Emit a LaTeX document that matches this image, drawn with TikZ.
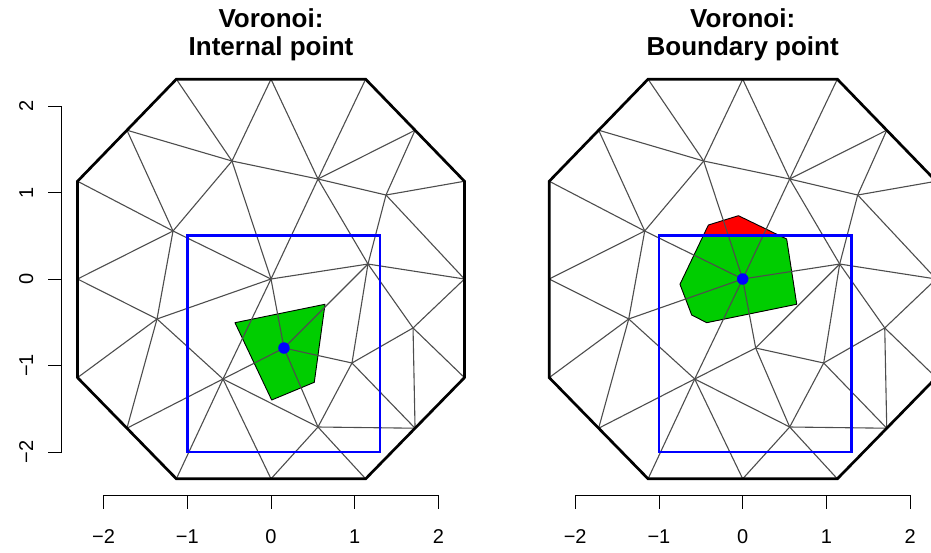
\documentclass[tikz,border=0pt]{standalone}
\usepackage{fontspec}
\setmainfont{Liberation Sans}
\usepackage{tikz}
\definecolor{meshgrey}{RGB}{77,77,77}
\definecolor{cellgreen}{RGB}{0,205,0}
\definecolor{cellred}{RGB}{255,0,0}
\definecolor{winblue}{RGB}{0,0,255}
\tikzset{
  hull/.style       = {draw=black, line width=2.7pt, line join=miter},
  meshline/.style   = {draw=meshgrey, line width=1.1pt},
  window/.style     = {draw=winblue, line width=2.7pt},
  cellrim/.style    = {draw=black, line width=0.9pt, line join=round},
  site/.style       = {circle, fill=winblue, inner sep=0pt, minimum size=11.5pt},
  axisline/.style   = {draw=black, line width=0.9pt},
  ticklab/.style    = {font=\fontsize{20}{24}\selectfont, inner sep=0pt},
  paneltitle/.style = {font=\fontsize{26}{28}\selectfont\bfseries, align=center, inner sep=0pt},
}

% the triangulated octagon, the same in both panels
\newcommand{\meshcoords}{%
  \coordinate (T0) at (-1.13, 2.31);  \coordinate (T1) at (0, 2.31);
  \coordinate (T2) at (1.13, 2.31);   \coordinate (UR) at (1.72, 1.72);
  \coordinate (R0) at (2.31, 1.13);   \coordinate (R1) at (2.31, 0);
  \coordinate (R2) at (2.31, -1.14);  \coordinate (LR) at (1.72, -1.725);
  \coordinate (B2) at (1.13, -2.31);  \coordinate (B1) at (0, -2.31);
  \coordinate (B0) at (-1.13, -2.31); \coordinate (LL) at (-1.72, -1.725);
  \coordinate (L2) at (-2.31, -1.14); \coordinate (L1) at (-2.31, 0);
  \coordinate (L0) at (-2.31, 1.13);  \coordinate (UL) at (-1.72, 1.72);
  % interior sites
  \coordinate (A) at (-0.466, 1.364); \coordinate (B) at (-1.170, 0.555);
  \coordinate (C) at (0.561, 1.156);  \coordinate (D) at (1.373, 0.971);
  \coordinate (E) at (1.158, 0.173);  \coordinate (F) at (0, 0);
  \coordinate (G) at (-1.361, -0.462);\coordinate (H) at (-0.573, -1.156);
  \coordinate (P) at (0.155, -0.798); \coordinate (I) at (0.561, -1.711);
  \coordinate (J) at (0.967, -0.971); \coordinate (K) at (1.696, -0.566);
}
\newcommand{\meshedges}{%
  \foreach \a/\b in {T0/A, T1/A, UL/A, UL/B, L0/B, L1/B, A/B, A/F, A/C, B/F, B/G,
                     T1/C, T2/C, UR/C, UR/D, R0/D, C/D, C/F, C/E, D/E, D/R1, E/R1, F/E,
                     L1/G, L2/G, LL/G, G/H, G/F, LL/H, B0/H, B1/H, H/F, H/P, H/I,
                     P/F, P/E, P/J, P/I,
                     E/J, E/K, R1/K, K/J, K/LR, K/R2, J/LR, J/I, I/LR, I/B1, I/B2}
    \draw[meshline] (\a) -- (\b);
  \draw[window] (-1,-2) rectangle (1.3,0.5);
  \draw[hull] (T0) -- (T1) -- (T2) -- (UR) -- (R0) -- (R1) -- (R2) -- (LR)
    -- (B2) -- (B1) -- (B0) -- (LL) -- (L2) -- (L1) -- (L0) -- (UL) -- cycle;
}
\newcommand{\xaxis}{%
  \draw[axisline] (-2,-2.5) -- (2,-2.5);
  \foreach \v/\t in {-2/−2, -1/−1, 0/0, 1/1, 2/2} {
    \draw[axisline] (\v,-2.5) -- ++(0,-13.3pt);
    \node[ticklab, anchor=base] (xlab\v) at ([yshift=-48.3pt]\v,-2.5) {\t};
  }
}

\begin{document}
\begin{tikzpicture}[x=83.75pt, y=86.5pt]
  \useasboundingbox (-271pt,-273pt) rectangle (660pt,279pt);
  \clip (-271pt,-273pt) rectangle (660pt,279pt);

  % left panel: internal point
  \begin{scope}
    \meshcoords
    \draw[cellrim, fill=cellgreen] (-0.430,-0.505) -- (0.645,-0.292)
      -- (0.517,-1.194) -- (0.008,-1.399) -- cycle;
    \meshedges
    \node[site] (ptin) at (P) {};
    \node[paneltitle, anchor=base] (titlein) at (0,223pt) {Voronoi:\\Internal point};
    \xaxis
    \draw[axisline] (-2.5,-2) -- (-2.5,2);
    \foreach \v/\t in {-2/−2, -1/−1, 0/0, 1/1, 2/2} {
      \draw[axisline] (-2.5,\v) -- ++(-13.4pt,0);
      \node[ticklab, rotate=90, anchor=base] (ylab\v) at ([xshift=-28.4pt]-2.5,\v) {\t};
    }
  \end{scope}

  % right panel: boundary point
  \begin{scope}[xshift=471.7pt]
    \meshcoords
    \coordinate (V1) at (-0.410, 0.624); \coordinate (V2) at (-0.051, 0.732);
    \coordinate (V3) at (0.525, 0.462);  \coordinate (V4) at (0.645, -0.292);
    \coordinate (V5) at (-0.430, -0.505);\coordinate (V6) at (-0.609, -0.416);
    \coordinate (V7) at (-0.749, -0.061);
    \fill[cellred] (V1) -- (V2) -- (V3) -- (V4) -- (V5) -- (V6) -- (V7) -- cycle;
    \begin{scope}
      \clip (-1,-2) rectangle (1.3,0.5);
      \fill[cellgreen] (V1) -- (V2) -- (V3) -- (V4) -- (V5) -- (V6) -- (V7) -- cycle;
    \end{scope}
    \draw[cellrim] (V1) -- (V2) -- (V3) -- (V4) -- (V5) -- (V6) -- (V7) -- cycle;
    \meshedges
    \node[site] (ptbd) at (F) {};
    \node[paneltitle, anchor=base] (titlebd) at (0,223pt) {Voronoi:\\Boundary point};
    \xaxis
  \end{scope}
\end{tikzpicture}
\end{document}
